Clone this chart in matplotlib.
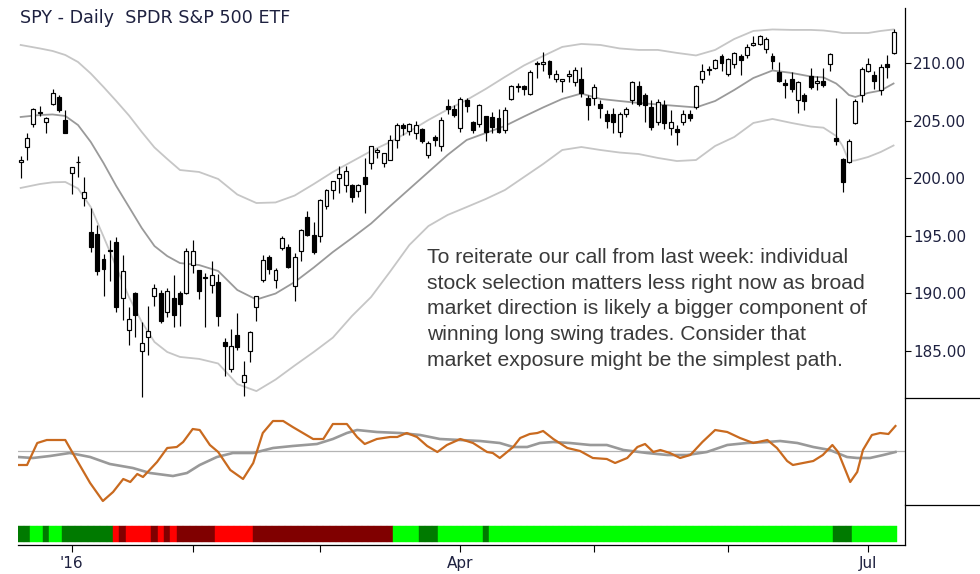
import matplotlib
matplotlib.use("Agg")
import matplotlib.pyplot as plt
from matplotlib.lines import Line2D

# SPY daily bars, 21 Dec 2015 .. 8 Jul 2016, bar index 0..137
opens = [201.4, 202.7, 204.7, 205.7, 204.9, 206.5, 207.1, 205.1, 200.5, 201.4,
         198.3, 195.3, 195.2, 193.0, 193.8, 194.5, 189.6, 186.8, 190.0, 185.0,
         186.2, 189.8, 190.0, 188.4, 189.6, 190.0, 190.0, 192.5, 192.0, 191.4,
         190.7, 191.0, 185.8, 183.4, 186.4, 182.3, 185.0, 188.8, 191.2, 193.2,
         191.2, 193.9, 194.0, 190.6, 193.7, 196.6, 195.1, 195.0, 197.6, 199.0,
         200.0, 199.4, 199.4, 198.9, 200.1, 201.3, 202.3, 201.3, 201.6, 203.3,
         204.6, 204.1, 203.9, 204.3, 202.0, 203.6, 202.8, 206.3, 206.0, 204.4,
         206.8, 204.9, 204.7, 205.4, 205.3, 205.2, 204.2, 206.9, 207.9, 208.0,
         207.3, 210.0, 209.9, 210.2, 208.6, 208.5, 208.9, 208.4, 208.6, 207.0,
         207.0, 206.5, 205.6, 205.6, 204.0, 205.6, 206.8, 208.0, 207.2, 206.2,
         204.9, 206.4, 204.4, 204.3, 204.9, 205.6, 206.2, 208.6, 209.4, 209.6,
         210.6, 209.1, 209.9, 210.6, 210.7, 211.6, 211.7, 211.2, 210.6, 209.2,
         208.3, 208.6, 206.8, 207.2, 208.9, 208.3, 208.5, 209.9, 203.5, 201.7,
         201.4, 204.8, 207.2, 209.3, 209.0, 207.7, 209.9, 210.9]
highs = [201.9, 203.9, 206.1, 206.3, 205.3, 207.8, 207.2, 205.9, 201.0, 201.9,
         200.1, 197.4, 195.9, 193.4, 194.6, 194.9, 193.3, 188.8, 190.1, 187.5,
         188.9, 190.8, 190.3, 190.5, 191.6, 190.2, 193.9, 194.6, 192.0, 191.8,
         192.8, 191.7, 186.1, 186.9, 188.3, 184.1, 186.7, 189.8, 193.3, 193.3,
         192.2, 195.0, 194.3, 193.5, 195.6, 197.2, 196.2, 198.2, 199.1, 199.8,
         201.1, 201.1, 199.5, 199.5, 201.8, 202.8, 202.6, 202.2, 203.8, 204.8,
         204.8, 204.8, 205.0, 204.4, 203.2, 203.8, 205.3, 206.9, 206.4, 207.1,
         207.0, 205.0, 206.5, 205.4, 205.8, 206.0, 206.2, 208.1, 208.3, 208.1,
         209.4, 210.2, 211.0, 210.3, 209.4, 208.6, 209.4, 209.7, 209.7, 207.2,
         208.2, 206.8, 205.9, 206.1, 205.8, 206.2, 208.5, 208.5, 207.4, 206.8,
         206.9, 206.8, 205.9, 204.6, 205.9, 205.9, 208.1, 209.9, 209.8, 210.4,
         210.8, 210.5, 211.0, 210.8, 211.7, 212.4, 212.5, 212.3, 210.9, 210.1,
         208.6, 209.2, 208.5, 207.4, 209.6, 208.9, 209.6, 210.9, 207.0, 201.8,
         203.4, 206.9, 209.7, 210.5, 209.3, 209.9, 210.7, 212.95]
lows = [200.0, 201.6, 204.5, 205.4, 203.9, 206.4, 205.8, 203.9, 198.6, 200.1,
        197.6, 193.6, 191.6, 189.8, 191.1, 188.4, 187.7, 185.5, 186.2, 181.0,
        184.6, 188.9, 187.4, 187.9, 187.1, 187.2, 189.9, 191.8, 189.5, 187.1,
        190.0, 187.2, 182.8, 183.2, 185.1, 181.1, 184.0, 187.6, 191.0, 191.7,
        190.5, 193.8, 192.2, 189.3, 192.8, 195.0, 193.4, 194.5, 197.3, 198.2,
        198.7, 198.8, 197.9, 198.4, 197.0, 200.8, 201.8, 201.0, 201.6, 202.6,
        203.8, 203.8, 203.4, 203.1, 201.8, 202.8, 202.4, 205.6, 205.3, 204.0,
        205.8, 203.9, 204.5, 203.2, 203.9, 203.9, 203.9, 206.8, 207.5, 207.2,
        207.2, 208.7, 209.3, 208.7, 208.4, 207.5, 208.4, 208.0, 207.1, 205.1,
        206.4, 205.2, 204.4, 203.9, 203.6, 205.3, 206.5, 206.3, 204.9, 204.2,
        204.6, 204.3, 203.8, 202.9, 204.6, 205.0, 206.0, 208.3, 209.0, 209.5,
        209.3, 208.9, 209.6, 209.0, 210.5, 211.5, 211.6, 210.9, 209.5, 208.4,
        207.0, 207.5, 205.7, 205.9, 207.8, 207.7, 207.9, 209.3, 202.9, 198.8,
        201.3, 204.7, 206.6, 209.2, 207.8, 207.2, 208.7, 210.8]
closes = [201.6, 203.5, 206.0, 205.7, 205.2, 207.4, 205.9, 203.9, 201.0, 201.4,
          198.8, 194.0, 191.9, 192.1, 193.7, 188.8, 191.9, 187.8, 188.1, 185.7,
          186.7, 190.5, 187.6, 190.2, 188.1, 189.1, 193.7, 193.7, 190.2, 191.3,
          191.6, 188.0, 185.4, 185.4, 185.3, 182.9, 186.6, 189.8, 192.9, 192.1,
          192.0, 194.8, 192.3, 193.2, 195.5, 195.1, 193.6, 198.1, 199.0, 199.8,
          200.4, 200.6, 198.4, 199.4, 199.5, 202.8, 202.5, 202.2, 203.3, 204.6,
          204.4, 204.7, 204.6, 203.2, 203.1, 203.3, 205.1, 206.0, 205.5, 206.9,
          206.3, 204.2, 206.4, 204.0, 204.5, 204.0, 205.9, 208.0, 208.0, 207.8,
          209.2, 209.9, 210.1, 209.1, 209.1, 208.6, 209.1, 209.4, 207.4, 206.4,
          207.9, 206.1, 205.0, 204.9, 205.6, 206.0, 208.4, 206.5, 206.4, 204.5,
          206.6, 204.8, 204.9, 204.0, 205.6, 205.2, 208.0, 209.3, 209.5, 210.3,
          210.0, 210.4, 210.9, 210.3, 211.4, 211.8, 212.4, 212.1, 210.2, 208.5,
          208.1, 207.8, 208.4, 206.7, 207.9, 208.5, 208.1, 210.8, 203.2, 199.7,
          203.2, 206.7, 209.5, 209.9, 208.5, 209.7, 209.7, 212.7]

# Bollinger bands, read at these bar indexes
band_x = [0, 3, 5, 7, 9, 11, 13, 15, 17, 19, 21, 23, 25, 28, 31, 34, 37, 40, 43,
          46, 49, 52, 55, 58, 61, 64, 67, 70, 73, 76, 79, 82, 85, 88, 91, 94, 97,
          100, 103, 106, 109, 112, 115, 118, 121, 124, 126, 128, 129, 130, 131,
          133, 135, 137]
band_upper = [211.59, 211.29, 211.07, 210.72, 210.11, 209.11, 207.94, 206.72, 205.46,
              204.03, 202.68, 201.68, 200.72, 200.55, 199.94, 198.59, 197.85, 197.90,
              198.50, 199.50, 200.55, 201.46, 202.37, 203.16, 204.07, 205.07, 205.98,
              206.81, 207.77, 208.81, 209.81, 210.63, 211.42, 211.68, 211.59, 211.29,
              211.16, 211.16, 210.90, 210.68, 211.16, 212.11, 212.81, 212.94, 212.90,
              212.90, 212.85, 212.72, 212.63, 212.63, 212.63, 212.63, 212.81, 212.94]
band_mid = [205.33, 205.50, 205.55, 205.42, 204.63, 203.16, 201.33, 199.33, 197.51,
            195.68, 194.11, 193.24, 192.63, 192.46, 191.94, 190.29, 189.46, 189.98,
            190.98, 192.24, 193.59, 194.81, 196.07, 197.59, 199.07, 200.55, 202.03,
            203.33, 203.94, 204.55, 205.37, 206.16, 206.90, 207.37, 206.90, 206.72,
            206.55, 206.42, 206.29, 206.16, 206.72, 207.68, 208.72, 209.37, 209.16,
            208.85, 208.77, 208.24, 207.77, 207.24, 207.07, 207.42, 207.63, 208.24]
band_lower = [199.16, 199.50, 199.65, 199.68, 199.11, 197.50, 194.94, 192.29, 189.68,
              187.51, 185.77, 184.90, 184.47, 184.30, 183.90, 182.11, 181.50, 182.50,
              183.72, 184.90, 186.15, 188.03, 189.68, 191.90, 194.20, 195.85, 196.81,
              197.50, 198.20, 198.98, 200.11, 201.24, 202.46, 202.72, 202.46, 202.24,
              202.11, 201.77, 201.50, 201.59, 202.81, 203.59, 204.81, 205.16, 204.81,
              204.50, 204.40, 203.68, 202.81, 201.50, 201.55, 201.85, 202.29, 202.85]

# oscillator panel (orange) and its average (gray)
osc_x = [-0.4, 1.0, 2.6, 4.1, 7.0, 8.8, 10.9, 12.9, 14.5, 16.1, 17.2, 18.3, 19.2,
         21.4, 23.0, 24.5, 25.5, 27.0, 28.1, 29.7, 31.0, 32.9, 34.9, 36.5, 38.0,
         39.6, 41.2, 42.7, 44.3, 45.9, 47.5, 49.0, 51.2, 52.8, 54.0, 55.9, 58.0,
         59.1, 60.6, 62.2, 63.8, 65.4, 66.9, 69.0, 71.0, 73.2, 74.1, 75.2, 77.3,
         78.4, 79.9, 81.1, 82.0, 83.6, 85.8, 87.8, 89.8, 92.0, 93.3, 95.2, 96.8,
         98.0, 99.3, 100.4, 101.9, 103.5, 105.1, 107.0, 109.0, 110.9, 112.9, 115.0,
         117.2, 118.7, 120.3, 121.2, 122.8, 124.4, 125.9, 127.4, 128.3, 130.2,
         131.3, 132.2, 133.6, 134.9, 136.2, 137.3]
osc_v = [-14, -14, 8, 11, 11, -9, -32, -50, -41, -28, -31, -23, -26,
         -11, 3, 4, 9, 22, 21, 6, -1, -19, -28, -12, 18,
         30, 30, 24, 18, 12, 12, 27, 27, 14, 7, 12, 14,
         14, 18, 14, 5, -1, 6, 12, 8, -1, -2, -7, 4,
         13, 17, 18, 20, 12, 3, 0, -7, -8, -12, -7, 4,
         7, -1, 1, -2, -7, -4, 9, 21, 19, 13, 8,
         11, 3, -10, -14, -12, -10, -4, 6, -1, -31,
         -21, 1, 16, 18, 17, 25]
avg_x = [-0.4, 1.9, 4.6, 7.7, 10.9, 14.0, 17.6, 20.3, 23.9, 26.1, 28.1, 30.8, 33.3,
         36.5, 39.6, 42.7, 46.5, 49.0, 51.2, 52.8, 55.9, 59.5, 62.7, 65.8, 69.0,
         72.1, 75.2, 77.3, 79.5, 81.5, 83.6, 86.2, 89.4, 92.0, 94.6, 98.3, 101.5,
         104.6, 107.7, 110.9, 114.0, 117.2, 119.2, 121.9, 124.4, 127.0, 129.7,
         131.3, 133.3, 135.4, 137.3]
avg_v = [-6, -7, -5, -2, -6, -13, -17, -22, -25, -22, -14, -6, -2,
         -2, 3, 5, 7, 12, 18, 21, 19, 18, 16, 12, 11,
         10, 8, 4, 4, 8, 9, 8, 6, 6, 1, -2, -4,
         -4, -1, 6, 8, 9, 10, 8, 4, 1, -6,
         -7, -7, -4, -1]

# trend strip: (state, number of bars)
regime_runs = [("dg", 2), ("g", 2), ("dg", 1), ("g", 2), ("dg", 8), ("r", 1), ("dr", 1),
               ("r", 4), ("dr", 1), ("r", 1), ("dr", 1), ("r", 1), ("dr", 6), ("r", 6),
               ("dr", 22), ("g", 4), ("dg", 3), ("g", 7), ("dg", 1), ("g", 54),
               ("dg", 3), ("g", 7)]
regime_colors = {"g": "#00ff00", "dg": "#007a00", "r": "#ff0000", "dr": "#800000"}

month_ticks = [8, 27, 47, 69, 90, 111, 133]
month_labels = ["'16", "", "", "Apr", "", "", "Jul"]
price_ticks = [185, 190, 195, 200, 205, 210]

note = ("To reiterate our call from last week: individual\n"
        "stock selection matters less right now as broad\n"
        "market direction is likely a bigger component of\n"
        "winning long swing trades. Consider that\n"
        "market exposure might be the simplest path.")

W, H = 980, 574
fig = plt.figure(figsize=(W / 100, H / 100), dpi=100)
fig.patch.set_facecolor("white")

def box(x0, y0, x1, y1):
    return [x0 / W, 1 - y1 / H, (x1 - x0) / W, (y1 - y0) / H]

ax = fig.add_axes(box(18, 0, 905, 398))
ax_osc = fig.add_axes(box(18, 398, 905, 505), sharex=ax)
ax_bar = fig.add_axes(box(18, 505, 905, 545), sharex=ax)

label_col = "#1e2140"

# candles
n = len(closes)
xs = list(range(n))
ax.vlines(xs, lows, highs, color="black", linewidth=0.85, zorder=2)
body_bot = [min(o, c) for o, c in zip(opens, closes)]
body_h = [max(abs(c - o), 0.02) for o, c in zip(opens, closes)]
body_fc = ["white" if c >= o else "black" for o, c in zip(opens, closes)]
ax.bar(xs, body_h, bottom=body_bot, width=0.62, color=body_fc,
       edgecolor="black", linewidth=0.85, zorder=3)

ax.plot(band_x, band_upper, color="#c6c6c6", linewidth=1.3, zorder=1)
ax.plot(band_x, band_lower, color="#c6c6c6", linewidth=1.3, zorder=1)
ax.plot(band_x, band_mid, color="#9a9a9a", linewidth=1.3, zorder=1)

ax.set_ylim(180.9, 215.5)
ax.set_xlim(-0.42, 138.8)
ax.yaxis.tick_right()
ax.set_yticks(price_ticks)
ax.set_yticklabels([f"{t:.2f}" for t in price_ticks])
ax.tick_params(axis="y", direction="out", length=4, width=0.8, pad=2,
               labelsize=11, labelcolor=label_col)
ax.tick_params(axis="x", bottom=False, labelbottom=False)
for s in ["top", "left", "bottom"]:
    ax.spines[s].set_visible(False)
ax.spines["right"].set_bounds(180.9, 214.8)

# oscillator
ax_osc.axhline(0, color="#b4b4b4", linewidth=0.9)
ax_osc.plot(avg_x, avg_v, color="#999999", linewidth=1.9)
ax_osc.plot(osc_x, osc_v, color="#c96a1f", linewidth=1.6)
ax_osc.set_ylim(-54, 53)
ax_osc.set_yticks([])
ax_osc.tick_params(axis="x", bottom=False, labelbottom=False)
for s in ["top", "left", "bottom"]:
    ax_osc.spines[s].set_visible(False)

# trend strip
bar_cols = []
for state, count in regime_runs:
    bar_cols += [regime_colors[state]] * count
ax_bar.bar(xs, 0.4, bottom=0.075, width=1.0, color=bar_cols,
           edgecolor=bar_cols, linewidth=0.3)
ax_bar.set_ylim(0, 1)
ax_bar.set_yticks([])
ax_bar.set_xticks(month_ticks)
ax_bar.set_xticklabels(month_labels)
ax_bar.tick_params(axis="x", direction="out", length=5, width=0.8, pad=3,
                   labelsize=11, labelcolor=label_col)
for s in ["top", "left"]:
    ax_bar.spines[s].set_visible(False)

for a in (ax, ax_osc, ax_bar):
    for s in a.spines.values():
        s.set_linewidth(0.9)

# panel separators in the right margin
for yp in (398, 505):
    fig.add_artist(Line2D([905 / W, 1], [1 - yp / H] * 2, color="black",
                          linewidth=0.9, transform=fig.transFigure))

fig.text(20 / W, 1 - 18 / H, "SPY - Daily  SPDR S&P 500 ETF", fontsize=12.6,
         color=label_col, va="center", ha="left")
fig.text(427 / W, 1 - 248 / H, note, fontsize=15.2, family="Liberation Sans",
         color="#3a3a3a", va="top", ha="left", linespacing=1.45)

fig.savefig("out.png", dpi=100)
